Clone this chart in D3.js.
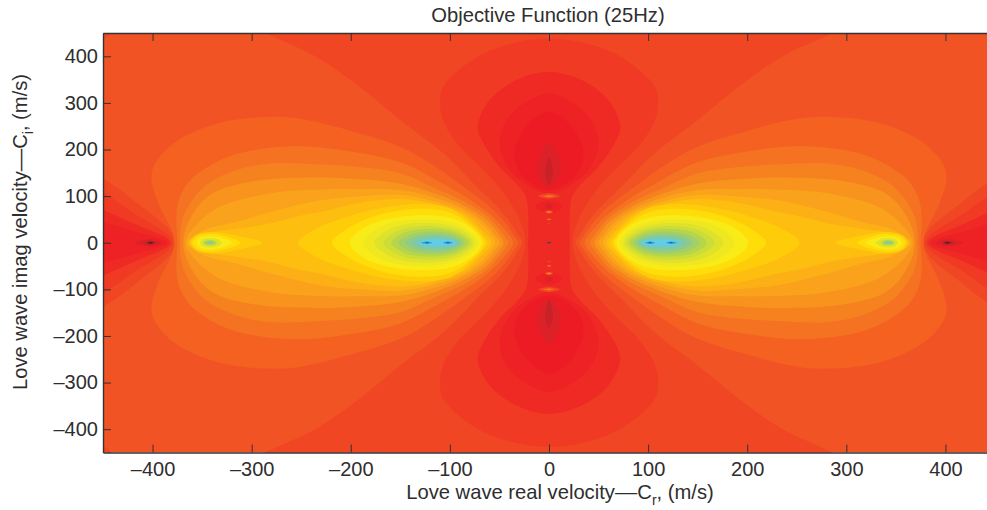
<!DOCTYPE html>
<html>
<head>
<meta charset="utf-8">
<script src="https://d3js.org/d3.v7.min.js"></script>
<style>
  html, body { margin: 0; padding: 0; background: #fff; overflow: hidden; }
  text { font-family: "Liberation Sans", Arial, sans-serif; fill: #2e2e2e; }
</style>
</head>
<body>
<div id="chart"></div>
<script>
// contour outlines, velocity units (m/s), one quadrant each.
// the field is symmetric so every outline gets mirrored about both axes when drawn
const xTicks = [-400, -300, -200, -100, 0, 100, 200, 300, 400];
const yTicks = [-400, -300, -200, -100, 0, 100, 200, 300, 400];

const levelColors = ["#33282A", "#8A2023", "#C92128", "#DC2228", "#ED1C24", "#EE2225", "#EF2A25", "#F03A24",
  "#F04623", "#F25325", "#F46121", "#F57222", "#F6821F", "#F8931D", "#FAA21B", "#FCB016", "#FDBE10", "#FFCC0A",
  "#FFDD08", "#F9EB18", "#EFE821", "#DEE22B", "#CCDC38", "#B7D54C", "#A1CF68", "#8ECB88", "#7EC9A8", "#6ECBC8",
  "#62CDE4", "#2E9FD8", "#0B62A8", "#3A3F66"];
const baseLevel = 9;

// red side, around the centre column and the +-400 spikes
const band08 = [
  [[0,480],[310,480],[285,449],[235,399],[191,334],[150,263],[106,191],[73,120],[45,60],[32,20],[27,0]],
  [[377,0],[419,91],[450,138],[480,175],[480,0]],
  [[440,460],[447,440],[470,430],[480,480]]
];
const band07 = [
  [[0,438],[50,420],[83,384],[107,334],[110,306],[107,263],[90,206],[66,156],[47,110],[32,60],[25,20],[24,0]],
  [[380,0],[420,65],[450,109],[480,150],[480,0]]
];
const band06 = [
  [[0,367],[33,349],[60,306],[72,249],[66,213],[50,163],[30,120],[23,97],[21,60],[21,0]],
  [[382,0],[420,42],[450,71],[480,100],[480,0]]
];
const band05 = [
  [[0,320],[23,302],[43,263],[50,213],[40,156],[16,116],[0,106]],
  [[385,0],[420,26],[450,44],[480,62],[480,0]]
];
const band04 = [[[0,281],[23,249],[35,191],[26,141],[0,113]]];
const band03 = [[[0,216],[12,170],[8,134],[0,120]], [[390,0],[402,8],[418,0]]];
const band02 = [[[0,183],[4,156],[0,123]], [[396,0],[402,5],[410,0]]];
const band01 = [[[398,0],[402,2.5],[406,0]]];
const band00 = [[[400,0],[402,1.2],[404,0]]];

// yellow side, big lobe near +-120 and small lobe near +-340
const band10 = [[[378,0],[394,84],[401,134],[399,163],[379,213],[335,256],[285,270],[251,266],[200,240],[150,206],[116,165],[85,118],[60,78],[45,45],[35,15],[31,0]]];
const band11 = [[[375,0],[376,56],[373,95],[362,134],[332,177],[300,198],[250,207],[200,196],[150,173],[116,137],[85,100],[60,62],[46,32],[38,10],[36,0]]];
const band12 = [[[372,0],[369,55],[348,120],[315,156],[281,170],[231,168],[190,162],[150,149],[116,118],[85,88],[60,53],[50,28],[43,8],[41,0]]];
const band13 = [[[369,0],[362,52],[341,104],[298,132],[231,140],[190,136],[150,127],[116,106],[85,79],[62,47],[52,22],[47,7],[45.7,0]]];
const band14 = [[[367,0],[355,41],[332,77],[281,106],[231,114],[190,115],[150,113],[116,97],[85,72],[66,45],[56,20],[51,6],[49.7,0]]];
const band15 = [[[365,0],[348,27],[315,45],[281,66],[231,91],[190,100],[150,103],[116,89],[85,66],[68,40],[59,18],[55,5],[54,0]]];
const band16 = [[[363,0],[345,20],[315,30],[285,40],[251,58],[231,66],[190,86],[150,94],[116,83],[85,60],[70,32],[61,12],[58,0]]];
const band17 = [
  [[253,0],[235,30],[200,58],[165,76],[130,83],[100,74],[78,42],[66,14],[62,0]],
  [[289,0],[315,15],[340,23],[356,16],[362,0]]
];
const band18 = [
  [[219,0],[205,28],[185,50],[160,66],[130,73],[100,65],[78,36],[67,10],[65,0]],
  [[311,0],[325,13],[343,19],[355,13],[360,0]]
];
const band19 = [
  [[201,0],[191,27],[170,47],[130,59],[97,52],[76,27],[68,0]],
  [[320,0],[330,10],[342,14],[352,10],[356,0]]
];
const band20 = [[[187,0],[170,35],[129,50],[88,35],[71,0]]];
const band21 = [[[176,0],[160,30],[125,43],[90,30],[75,0]], [[330,0],[335,8],[342,10],[349,8],[352,0]]];
const band22 = [[[167,0],[153,25],[122,36],[92,25],[78,0]]];
const band23 = [[[159,0],[147,21],[120,30],[93,21],[81,0]], [[335,0],[338,5],[342,6],[346,5],[349,0]]];
const band24 = [[[152,0],[141,17],[118,24],[95,17],[85,0]]];
const band25 = [[[145,0],[136,13],[117,19],[97,13],[88,0]], [[338,0],[342,3],[347,0]]];
const band26 = [[[139,0],[131,10],[114,14],[98,10],[90,0]]];
const band27 = [[[134,0],[127,7],[113,10],[99,7],[92,0]], [[340,0],[343,1.3],[345,0]]];
const band28 = [[[130,0],[124,5],[112,6.5],[100,5],[93,0]]];
const band29 = [[[129,0],[123,2.5],[118,0]], [[107,0],[102,2.5],[97,0]]];
const band30 = [[[125,0],[123,1],[121,0]], [[104,0],[102,1],[100,0]]];

// little spots up the centre column
const neckSpots = [
  [5, [[0,91],[14,78],[0,63]]],
  [3, [[0,84],[4,78],[0,72]]],
  [8, [[0,106],[11,100],[0,95]]],
  [10, [[0,103],[6,100],[0,97]]],
  [13, [[0,101],[2.5,100],[0,99]]],
  [10, [[0,69],[4,66],[0,63]]],
  [13, [[0,67],[1.6,66],[0,65]]],
  [10, [[0,52],[2.5,50],[0,48]]],
  [9, [[0,41.5],[2,40.5],[0,39.5]]],
  [31, [[0,1.5],[2.4,0]]]
];

const drawOrder = [
  [8, band08], [7, band07], [6, band06], [5, band05], [4, band04], [3, band03], [2, band02], [1, band01], [0, band00],
  [10, band10], [11, band11], [12, band12], [13, band13], [14, band14], [15, band15], [16, band16], [17, band17],
  [18, band18], [19, band19], [20, band20], [21, band21], [22, band22], [23, band23], [24, band24], [25, band25],
  [26, band26], [27, band27], [28, band28], [29, band29], [30, band30]
];

const margin = {top: 33, left: 103, bottom: 452.5, right: 995};

var svg = d3.select("#chart").append("svg")
    .attr("width", 987)
    .attr("height", 510);

var x = d3.scaleLinear().domain([-450, 450]).range([margin.left, margin.right]);
var y = d3.scaleLinear().domain([-450, 450]).range([margin.bottom, margin.top]);

svg.append("clipPath").attr("id", "plotclip")
  .append("rect")
    .attr("x", margin.left)
    .attr("y", margin.top)
    .attr("width", margin.right - margin.left)
    .attr("height", margin.bottom - margin.top);

var flip = (pts, sx, sy) => pts.map(d => [d[0] * sx, d[1] * sy]);

// turn one stored outline into its closed rings
function mirrored(p) {
  const a = p[0], b = p[p.length - 1];
  if (a[0] === 0 && b[1] === 0) {
    return [[...p,
      ...flip(p, 1, -1).reverse().slice(1),
      ...flip(p, -1, -1).slice(1),
      ...flip(p, -1, 1).reverse().slice(1, -1)]];
  }
  if (a[1] === 0 && b[1] === 0) {
    const half = [...p, ...flip(p, 1, -1).reverse().slice(1, -1)];
    return [half, flip(half, -1, 1)];
  }
  if (a[0] === 0 && b[0] === 0) {
    const half = [...p, ...flip(p, -1, 1).reverse().slice(1, -1)];
    return [half, flip(half, 1, -1)];
  }
  return [p, flip(p, -1, 1), flip(p, 1, -1), flip(p, -1, -1)];
}

var contourLine = d3.line()
    .x(d => x(d[0]))
    .y(d => y(d[1]))
    .curve(d3.curveCatmullRomClosed.alpha(0.5));

var plot = svg.append("g").attr("clip-path", "url(#plotclip)");

plot.append("rect")
    .attr("x", x(-450))
    .attr("y", y(450))
    .attr("width", x(450) - x(-450))
    .attr("height", y(-450) - y(450))
    .attr("fill", levelColors[baseLevel]);

var shapes = [];
drawOrder.forEach(function(o) {
  o[1].forEach(function(path) {
    mirrored(path).forEach(r => shapes.push({level: o[0], ring: r}));
  });
});
neckSpots.forEach(function(o) {
  mirrored(o[1]).forEach(r => shapes.push({level: o[0], ring: r}));
});

plot.selectAll("path")
  .data(shapes)
  .enter().append("path")
    .attr("d", d => contourLine(d.ring))
    .attr("fill", d => levelColors[d.level]);

// axes, ticks point inwards like matlab
var fmt = d => d < 0 ? "\u2013" + (-d) : "" + d;

function styleAxis(g) {
  g.selectAll("path").attr("stroke", "#333").attr("stroke-width", 1.4);
  g.selectAll("line").attr("stroke", "#333").attr("stroke-width", 1);
  g.selectAll("text").style("font-size", "20px").attr("fill", "#2e2e2e");
}

svg.append("g")
    .attr("transform", `translate(0,${margin.bottom})`)
    .call(d3.axisBottom(x).tickValues(xTicks).tickFormat(fmt).tickSizeInner(-8).tickSizeOuter(0).tickPadding(9))
    .call(styleAxis);

svg.append("g")
    .attr("transform", `translate(0,${margin.top})`)
    .call(d3.axisTop(x).tickValues(xTicks).tickFormat("").tickSizeInner(-8).tickSizeOuter(0))
    .call(styleAxis);

svg.append("g")
    .attr("transform", `translate(${margin.left},0)`)
    .call(d3.axisLeft(y).tickValues(yTicks).tickFormat(fmt).tickSizeInner(-8).tickSizeOuter(0).tickPadding(5))
    .call(styleAxis);

svg.append("text")
    .attr("x", 548)
    .attr("y", 22)
    .attr("text-anchor", "middle")
    .style("font-size", "20.2px")
    .text("Objective Function (25Hz)");

var xLabel = svg.append("text")
    .attr("x", 560)
    .attr("y", 499)
    .attr("text-anchor", "middle")
    .style("font-size", "20.2px");
xLabel.append("tspan").text("Love wave real velocity\u2013\u2013C");
xLabel.append("tspan").attr("dy", 6).style("font-size", "14px").text("r");
xLabel.append("tspan").attr("dy", -6).text(", (m/s)");

var yLabel = svg.append("text")
    .attr("transform", "translate(27,232) rotate(-90)")
    .attr("text-anchor", "middle")
    .style("font-size", "20.2px");
yLabel.append("tspan").text("Love wave imag velocity\u2013\u2013C");
yLabel.append("tspan").attr("dy", 6).style("font-size", "14px").text("i");
yLabel.append("tspan").attr("dy", -6).text(", (m/s)");
</script>
</body>
</html>
